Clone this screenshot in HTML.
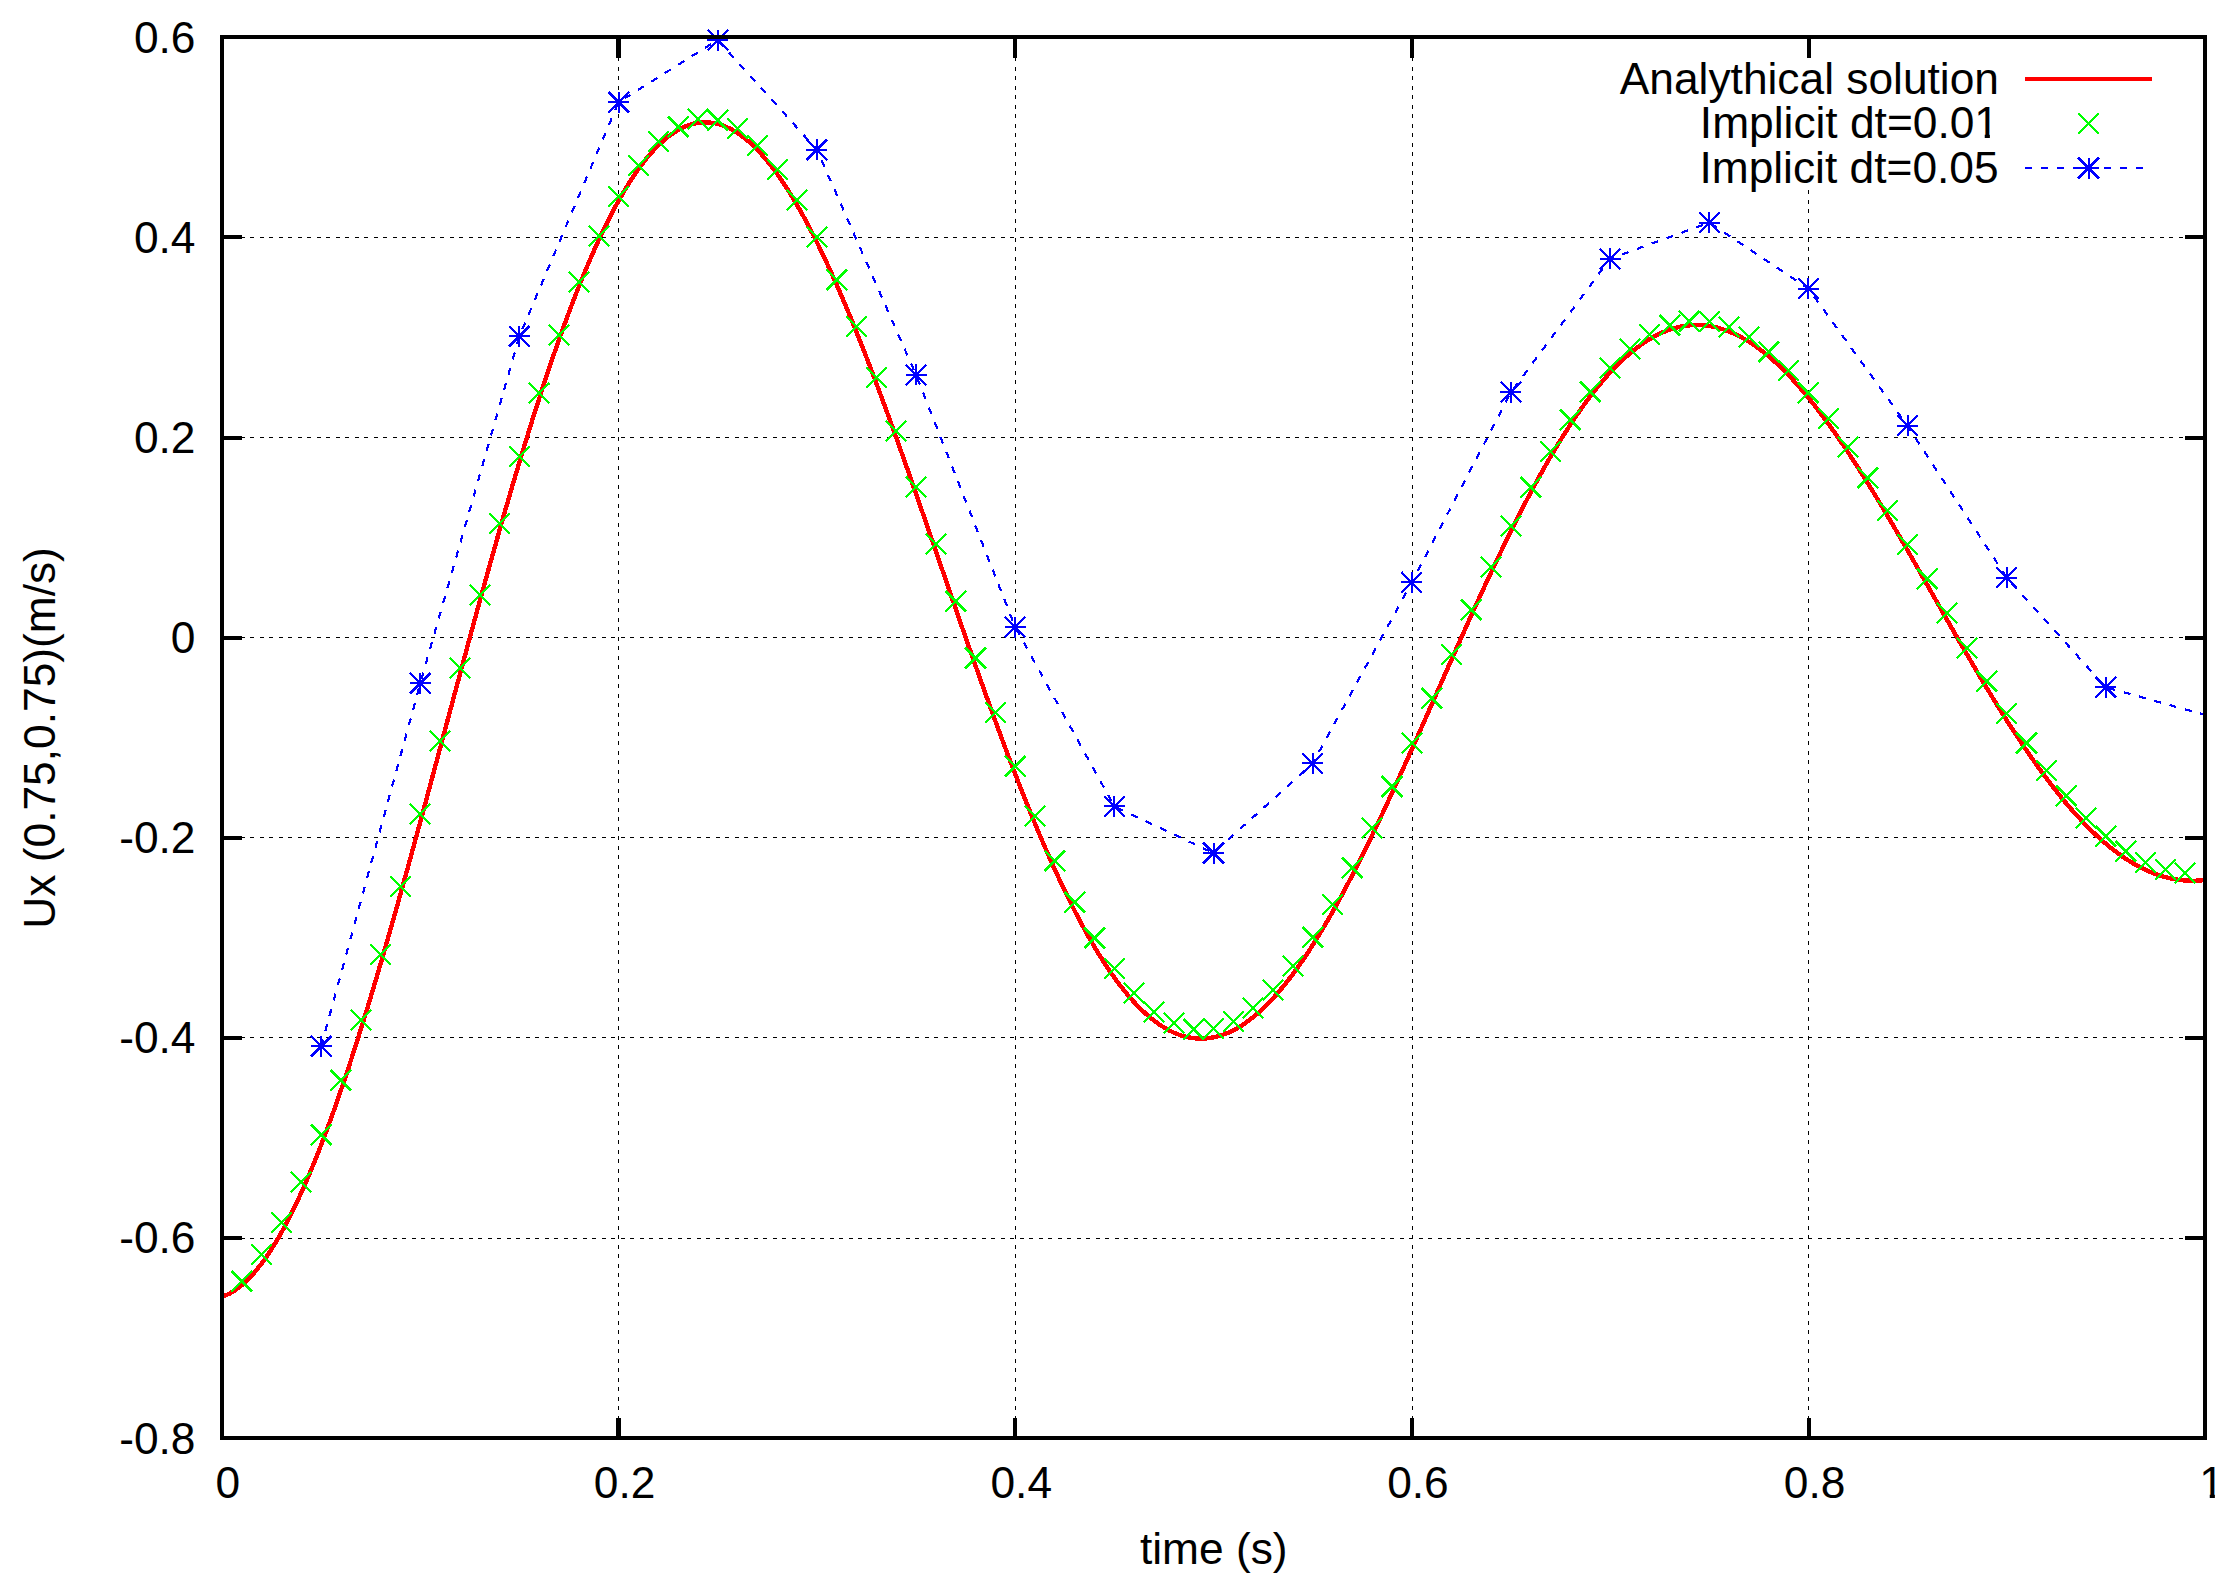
<!DOCTYPE html>
<html lang="en"><head><meta charset="utf-8"><title>Ux (0.75,0.75) vs time</title>
<style>
html,body{margin:0;padding:0;background:#fff;}
body{width:2238px;height:1587px;overflow:hidden;}
svg{display:block;}
text{font-family:"Liberation Sans",sans-serif;font-size:44.3px;fill:#000;}
.grid{stroke:#000;stroke-width:1;stroke-dasharray:4 5.5;fill:none;shape-rendering:crispEdges;}
.bord{stroke:#000;stroke-width:4;fill:none;shape-rendering:crispEdges;}
.r{shape-rendering:crispEdges;stroke:#f00;stroke-width:4.4;fill:none;stroke-linejoin:round;stroke-linecap:butt;}
.g{shape-rendering:crispEdges;stroke:#0f0;stroke-width:2.3;fill:none;}
.b{shape-rendering:crispEdges;stroke:#00f;stroke-width:2.3;fill:none;}
.bd{shape-rendering:crispEdges;stroke:#00f;stroke-width:2.2;fill:none;stroke-dasharray:7.1 8.75;}
</style></head><body>
<svg width="2238" height="1587" viewBox="0 0 2238 1587">
<rect x="0" y="0" width="2238" height="1587" fill="#fff"/>
<defs>
<path id="mx" d="M-10.3-10.3L10.3 10.3M-10.3 10.3L10.3-10.3"/>
<g id="ms"><path style="stroke-width:2" d="M-10.5 0H10.5M0-10.5V10.5"/><path d="M-10.3-10.3L10.3 10.3M-10.3 10.3L10.3-10.3"/></g>
</defs>
<g class="grid">
<path d="M221.5 237.5H2205"/>
<path d="M221.5 437.5H2205"/>
<path d="M221.5 637.5H2205"/>
<path d="M221.5 837.5H2205"/>
<path d="M221.5 1037.5H2205"/>
<path d="M221.5 1238.5H2205"/>
<path d="M618.5 1438.5V37"/>
<path d="M1015.5 1438.5V37"/>
<path d="M1412.5 1438.5V37"/>
<path d="M1808.5 1438.5V189.5"/>
</g>
<path class="r" d="M222 1296.81 225.97 1295.29 229.93 1293.35 233.9 1291.01 237.86 1288.26 241.83 1285.1 245.8 1281.55 249.76 1277.61 253.73 1273.27 257.69 1268.55 261.66 1263.45 265.63 1257.97 269.59 1252.12 273.56 1245.9 277.52 1239.33 281.49 1232.39 285.46 1225.11 289.42 1217.48 293.39 1209.51 297.35 1201.22 301.32 1192.6 305.29 1183.66 309.25 1174.41 313.22 1164.86 317.18 1155.01 321.15 1144.87 325.12 1134.45 329.08 1123.76 333.05 1112.8 337.01 1101.58 340.98 1090.11 344.95 1078.41 348.91 1066.46 352.88 1054.3 356.84 1041.92 360.81 1029.33 364.78 1016.54 368.74 1003.57 372.71 990.41 376.67 977.08 380.64 963.59 384.61 949.95 388.57 936.16 392.54 922.24 396.5 908.19 400.47 894.03 404.44 879.76 408.4 865.4 412.37 850.94 416.33 836.41 420.3 821.81 424.27 807.16 428.23 792.45 432.2 777.7 436.16 762.93 440.13 748.13 444.1 733.32 448.06 718.51 452.03 703.71 455.99 688.93 459.96 674.17 463.93 659.45 467.89 644.77 471.86 630.15 475.82 615.58 479.79 601.1 483.76 586.69 487.72 572.37 491.69 558.15 495.65 544.04 499.62 530.04 503.59 516.17 507.55 502.42 511.52 488.82 515.48 475.37 519.45 462.08 523.42 448.95 527.38 435.99 531.35 423.21 535.31 410.62 539.28 398.22 543.25 386.02 547.21 374.03 551.18 362.26 555.14 350.7 559.11 339.38 563.08 328.29 567.04 317.44 571.01 306.84 574.97 296.49 578.94 286.39 582.91 276.56 586.87 267 590.84 257.71 594.8 248.7 598.77 239.97 602.74 231.53 606.7 223.38 610.67 215.52 614.63 207.96 618.6 200.71 622.57 193.76 626.53 187.12 630.5 180.8 634.46 174.79 638.43 169.09 642.4 163.72 646.36 158.66 650.33 153.94 654.29 149.53 658.26 145.46 662.23 141.71 666.19 138.29 670.16 135.21 674.12 132.45 678.09 130.02 682.06 127.93 686.02 126.17 689.99 124.74 693.95 123.64 697.92 122.87 701.89 122.43 705.85 122.32 709.82 122.53 713.78 123.07 717.75 123.94 721.72 125.13 725.68 126.63 729.65 128.46 733.61 130.6 737.58 133.06 741.55 135.82 745.51 138.89 749.48 142.27 753.44 145.95 757.41 149.92 761.38 154.19 765.34 158.74 769.31 163.59 773.27 168.71 777.24 174.11 781.21 179.78 785.17 185.72 789.14 191.93 793.1 198.39 797.07 205.1 801.04 212.06 805 219.27 808.97 226.7 812.93 234.38 816.9 242.27 820.87 250.39 824.83 258.71 828.8 267.25 832.76 275.99 836.73 284.92 840.7 294.03 844.66 303.33 848.63 312.81 852.59 322.45 856.56 332.25 860.53 342.21 864.49 352.32 868.46 362.57 872.42 372.95 876.39 383.45 880.36 394.08 884.32 404.81 888.29 415.66 892.25 426.6 896.22 437.63 900.19 448.74 904.15 459.93 908.12 471.18 912.08 482.5 916.05 493.87 920.02 505.28 923.98 516.74 927.95 528.22 931.91 539.73 935.88 551.25 939.85 562.78 943.81 574.32 947.78 585.84 951.74 597.36 955.71 608.85 959.68 620.32 963.64 631.75 967.61 643.14 971.57 654.48 975.54 665.76 979.51 676.98 983.47 688.14 987.44 699.21 991.4 710.2 995.37 721.1 999.34 731.91 1003.3 742.61 1007.27 753.2 1011.23 763.68 1015.2 774.03 1019.17 784.26 1023.13 794.35 1027.1 804.3 1031.06 814.11 1035.03 823.77 1039 833.26 1042.96 842.6 1046.93 851.77 1050.89 860.77 1054.86 869.59 1058.83 878.22 1062.79 886.67 1066.76 894.93 1070.72 902.99 1074.69 910.85 1078.66 918.51 1082.62 925.96 1086.59 933.19 1090.55 940.21 1094.52 947.01 1098.49 953.58 1102.45 959.93 1106.42 966.05 1110.38 971.93 1114.35 977.58 1118.32 982.99 1122.28 988.16 1126.25 993.09 1130.21 997.77 1134.18 1002.21 1138.15 1006.39 1142.11 1010.33 1146.08 1014.01 1150.04 1017.44 1154.01 1020.61 1157.98 1023.53 1161.94 1026.19 1165.91 1028.6 1169.87 1030.75 1173.84 1032.63 1177.81 1034.27 1181.77 1035.64 1185.74 1036.75 1189.7 1037.61 1193.67 1038.21 1197.64 1038.55 1201.6 1038.64 1205.57 1038.47 1209.53 1038.05 1213.5 1037.37 1217.47 1036.45 1221.43 1035.27 1225.4 1033.85 1229.36 1032.18 1233.33 1030.27 1237.3 1028.12 1241.26 1025.73 1245.23 1023.1 1249.19 1020.23 1253.16 1017.14 1257.13 1013.82 1261.09 1010.27 1265.06 1006.5 1269.02 1002.51 1272.99 998.3 1276.96 993.88 1280.92 989.26 1284.89 984.42 1288.85 979.39 1292.82 974.16 1296.79 968.74 1300.75 963.13 1304.72 957.34 1308.68 951.36 1312.65 945.22 1316.62 938.9 1320.58 932.41 1324.55 925.76 1328.51 918.96 1332.48 912 1336.45 904.9 1340.41 897.66 1344.38 890.28 1348.34 882.77 1352.31 875.14 1356.28 867.38 1360.24 859.51 1364.21 851.53 1368.17 843.45 1372.14 835.26 1376.11 826.99 1380.07 818.63 1384.04 810.18 1388 801.66 1391.97 793.07 1395.94 784.42 1399.9 775.71 1403.87 766.94 1407.83 758.13 1411.8 749.27 1415.77 740.38 1419.73 731.46 1423.7 722.52 1427.66 713.56 1431.63 704.58 1435.6 695.6 1439.56 686.62 1443.53 677.64 1447.49 668.67 1451.46 659.72 1455.43 650.79 1459.39 641.89 1463.36 633.02 1467.32 624.19 1471.29 615.4 1475.26 606.66 1479.22 597.98 1483.19 589.35 1487.15 580.79 1491.12 572.3 1495.09 563.89 1499.05 555.55 1503.02 547.3 1506.98 539.15 1510.95 531.08 1514.92 523.12 1518.88 515.26 1522.85 507.51 1526.81 499.87 1530.78 492.35 1534.75 484.95 1538.71 477.68 1542.68 470.54 1546.64 463.53 1550.61 456.66 1554.58 449.93 1558.54 443.35 1562.51 436.92 1566.47 430.64 1570.44 424.52 1574.41 418.56 1578.37 412.76 1582.34 407.13 1586.3 401.66 1590.27 396.37 1594.24 391.24 1598.2 386.3 1602.17 381.54 1606.13 376.95 1610.1 372.55 1614.07 368.34 1618.03 364.31 1622 360.48 1625.96 356.83 1629.93 353.38 1633.9 350.12 1637.86 347.05 1641.83 344.18 1645.79 341.51 1649.76 339.04 1653.73 336.77 1657.69 334.7 1661.66 332.82 1665.62 331.15 1669.59 329.68 1673.56 328.41 1677.52 327.34 1681.49 326.47 1685.45 325.81 1689.42 325.34 1693.39 325.07 1697.35 325.01 1701.32 325.14 1705.28 325.46 1709.25 325.99 1713.22 326.71 1717.18 327.62 1721.15 328.73 1725.11 330.03 1729.08 331.52 1733.05 333.2 1737.01 335.06 1740.98 337.11 1744.94 339.34 1748.91 341.75 1752.88 344.34 1756.84 347.1 1760.81 350.04 1764.77 353.14 1768.74 356.42 1772.71 359.86 1776.67 363.46 1780.64 367.23 1784.6 371.14 1788.57 375.22 1792.54 379.44 1796.5 383.81 1800.47 388.32 1804.43 392.97 1808.4 397.76 1812.37 402.68 1816.33 407.74 1820.3 412.91 1824.26 418.21 1828.23 423.63 1832.2 429.16 1836.16 434.8 1840.13 440.54 1844.09 446.39 1848.06 452.34 1852.03 458.38 1855.99 464.51 1859.96 470.72 1863.92 477.02 1867.89 483.39 1871.86 489.84 1875.82 496.35 1879.79 502.93 1883.75 509.56 1887.72 516.25 1891.69 522.99 1895.65 529.78 1899.62 536.6 1903.58 543.47 1907.55 550.36 1911.52 557.29 1915.48 564.23 1919.45 571.2 1923.41 578.18 1927.38 585.17 1931.35 592.16 1935.31 599.16 1939.28 606.15 1943.24 613.13 1947.21 620.1 1951.18 627.06 1955.14 633.99 1959.11 640.9 1963.07 647.78 1967.04 654.62 1971.01 661.43 1974.97 668.19 1978.94 674.91 1982.9 681.58 1986.87 688.19 1990.84 694.74 1994.8 701.23 1998.77 707.66 2002.73 714.01 2006.7 720.29 2010.67 726.49 2014.63 732.61 2018.6 738.65 2022.56 744.6 2026.53 750.46 2030.5 756.22 2034.46 761.88 2038.43 767.44 2042.39 772.9 2046.36 778.25 2050.33 783.49 2054.29 788.61 2058.26 793.62 2062.22 798.51 2066.19 803.28 2070.16 807.92 2074.12 812.44 2078.09 816.83 2082.05 821.08 2086.02 825.21 2089.99 829.19 2093.95 833.04 2097.92 836.76 2101.88 840.32 2105.85 843.75 2109.82 847.03 2113.78 850.17 2117.75 853.16 2121.71 856 2125.68 858.69 2129.65 861.23 2133.61 863.61 2137.58 865.85 2141.54 867.93 2145.51 869.85 2149.48 871.62 2153.44 873.24 2157.41 874.69 2161.37 876 2165.34 877.14 2169.31 878.13 2173.27 878.96 2177.24 879.64 2181.2 880.16 2185.17 880.52 2189.14 880.73 2193.1 880.78 2197.07 880.68 2201.03 880.42 2205 880.02"/>
<g class="g">
<use href="#mx" x="241.83" y="1281.3"/>
<use href="#mx" x="261.66" y="1254.69"/>
<use href="#mx" x="281.49" y="1222.27"/>
<use href="#mx" x="301.32" y="1182.05"/>
<use href="#mx" x="321.15" y="1134.62"/>
<use href="#mx" x="340.98" y="1080.39"/>
<use href="#mx" x="360.81" y="1019.86"/>
<use href="#mx" x="380.64" y="954.42"/>
<use href="#mx" x="400.47" y="886.29"/>
<use href="#mx" x="420.3" y="814.05"/>
<use href="#mx" x="440.13" y="741.21"/>
<use href="#mx" x="459.96" y="667.77"/>
<use href="#mx" x="479.79" y="595.03"/>
<use href="#mx" x="499.62" y="523.69"/>
<use href="#mx" x="519.45" y="456.65"/>
<use href="#mx" x="539.28" y="393.12"/>
<use href="#mx" x="559.11" y="334.88"/>
<use href="#mx" x="578.94" y="281.95"/>
<use href="#mx" x="598.77" y="235.93"/>
<use href="#mx" x="618.6" y="196.61"/>
<use href="#mx" x="638.43" y="165.29"/>
<use href="#mx" x="658.26" y="141.48"/>
<use href="#mx" x="678.09" y="126.67"/>
<use href="#mx" x="697.92" y="119.07"/>
<use href="#mx" x="717.75" y="120.17"/>
<use href="#mx" x="737.58" y="128.77"/>
<use href="#mx" x="757.41" y="145.58"/>
<use href="#mx" x="777.24" y="169.59"/>
<use href="#mx" x="797.07" y="200.21"/>
<use href="#mx" x="816.9" y="237.03"/>
<use href="#mx" x="836.73" y="279.85"/>
<use href="#mx" x="856.56" y="326.48"/>
<use href="#mx" x="876.39" y="377.61"/>
<use href="#mx" x="896.22" y="431.04"/>
<use href="#mx" x="916.05" y="486.67"/>
<use href="#mx" x="935.88" y="543.9"/>
<use href="#mx" x="955.71" y="601.13"/>
<use href="#mx" x="975.54" y="657.96"/>
<use href="#mx" x="995.37" y="712.59"/>
<use href="#mx" x="1015.2" y="766.22"/>
<use href="#mx" x="1035.03" y="815.85"/>
<use href="#mx" x="1054.86" y="860.77"/>
<use href="#mx" x="1074.69" y="902.2"/>
<use href="#mx" x="1094.52" y="937.92"/>
<use href="#mx" x="1114.35" y="968.43"/>
<use href="#mx" x="1134.18" y="993.15"/>
<use href="#mx" x="1154.01" y="1011.76"/>
<use href="#mx" x="1173.84" y="1023.16"/>
<use href="#mx" x="1193.67" y="1029.27"/>
<use href="#mx" x="1213.5" y="1028.46"/>
<use href="#mx" x="1233.33" y="1021.46"/>
<use href="#mx" x="1253.16" y="1007.85"/>
<use href="#mx" x="1272.99" y="989.84"/>
<use href="#mx" x="1292.82" y="965.93"/>
<use href="#mx" x="1312.65" y="937.11"/>
<use href="#mx" x="1332.48" y="904.7"/>
<use href="#mx" x="1352.31" y="867.78"/>
<use href="#mx" x="1372.14" y="828.15"/>
<use href="#mx" x="1391.97" y="786.53"/>
<use href="#mx" x="1411.8" y="743.01"/>
<use href="#mx" x="1431.63" y="698.08"/>
<use href="#mx" x="1451.46" y="654.26"/>
<use href="#mx" x="1471.29" y="609.83"/>
<use href="#mx" x="1491.12" y="566.81"/>
<use href="#mx" x="1510.95" y="525.81"/>
<use href="#mx" x="1530.78" y="487.28"/>
<use href="#mx" x="1550.61" y="451.79"/>
<use href="#mx" x="1570.44" y="419.93"/>
<use href="#mx" x="1590.27" y="391.81"/>
<use href="#mx" x="1610.1" y="368.2"/>
<use href="#mx" x="1629.93" y="348.89"/>
<use href="#mx" x="1649.76" y="334.48"/>
<use href="#mx" x="1669.59" y="325.08"/>
<use href="#mx" x="1689.42" y="321.08"/>
<use href="#mx" x="1709.25" y="321.48"/>
<use href="#mx" x="1729.08" y="326.78"/>
<use href="#mx" x="1748.91" y="337.08"/>
<use href="#mx" x="1768.74" y="351.89"/>
<use href="#mx" x="1788.57" y="370.5"/>
<use href="#mx" x="1808.4" y="392.82"/>
<use href="#mx" x="1828.23" y="418.53"/>
<use href="#mx" x="1848.06" y="447.25"/>
<use href="#mx" x="1867.89" y="477.56"/>
<use href="#mx" x="1887.72" y="510.58"/>
<use href="#mx" x="1907.55" y="544.4"/>
<use href="#mx" x="1927.38" y="578.82"/>
<use href="#mx" x="1947.21" y="613.14"/>
<use href="#mx" x="1967.04" y="647.86"/>
<use href="#mx" x="1986.87" y="681.37"/>
<use href="#mx" x="2006.7" y="713.49"/>
<use href="#mx" x="2026.53" y="743.01"/>
<use href="#mx" x="2046.36" y="770.72"/>
<use href="#mx" x="2066.19" y="795.74"/>
<use href="#mx" x="2086.02" y="817.85"/>
<use href="#mx" x="2105.85" y="836.36"/>
<use href="#mx" x="2125.68" y="851.14"/>
<use href="#mx" x="2145.51" y="862.18"/>
<use href="#mx" x="2165.34" y="869.38"/>
<use href="#mx" x="2185.17" y="872.98"/>
</g>
<path class="bd" d="M321.15 1046.37 420.3 683.18 519.45 336.18 618.6 102.06 717.75 40.02 816.9 149.68 916.05 374.91 1015.2 627.04 1114.35 806.44 1213.5 853.07 1312.65 763.42 1411.8 582.42 1510.95 392.32 1610.1 258.74 1709.25 222.62 1808.4 288.56 1907.55 425.83 2006.7 577.62 2105.85 687.28 2205 714.89"/>
<g class="b">
<use href="#ms" x="321.15" y="1046.37"/>
<use href="#ms" x="420.3" y="683.18"/>
<use href="#ms" x="519.45" y="336.18"/>
<use href="#ms" x="618.6" y="102.06"/>
<use href="#ms" x="717.75" y="40.02"/>
<use href="#ms" x="816.9" y="149.68"/>
<use href="#ms" x="916.05" y="374.91"/>
<use href="#ms" x="1015.2" y="627.04"/>
<use href="#ms" x="1114.35" y="806.44"/>
<use href="#ms" x="1213.5" y="853.07"/>
<use href="#ms" x="1312.65" y="763.42"/>
<use href="#ms" x="1411.8" y="582.42"/>
<use href="#ms" x="1510.95" y="392.32"/>
<use href="#ms" x="1610.1" y="258.74"/>
<use href="#ms" x="1709.25" y="222.62"/>
<use href="#ms" x="1808.4" y="288.56"/>
<use href="#ms" x="1907.55" y="425.83"/>
<use href="#ms" x="2006.7" y="577.62"/>
<use href="#ms" x="2105.85" y="687.28"/>
</g>
<path class="r" style="stroke-width:4" d="M2025 79H2152"/>
<use class="g" href="#mx" x="2088.5" y="123.4"/>
<path class="bd" d="M2025 168H2152"/>
<use class="b" href="#ms" x="2088.5" y="168"/>
<g class="bord">
<rect x="222" y="37" width="1983" height="1401"/>
<path d="M222 237h20 M2205 237h-20"/>
<path d="M222 438h20 M2205 438h-20"/>
<path d="M222 638h20 M2205 638h-20"/>
<path d="M222 838h20 M2205 838h-20"/>
<path d="M222 1038h20 M2205 1038h-20"/>
<path d="M222 1238h20 M2205 1238h-20"/>
<path style="stroke-width:5" d="M618.5 1438v-20 M618.5 37v21"/>
<path d="M1015 1438v-20 M1015 37v21"/>
<path d="M1412 1438v-20 M1412 37v21"/>
<path d="M1809 1438v-20 M1809 37v21"/>
</g>
<clipPath id="c1"><path d="M-4 -45H30V-4.21 H15.66 V3 H10.54 V-4.21 H-4Z"/></clipPath>
<g text-anchor="end">
<text x="195.5" y="52.68">0.6</text>
<text x="195.5" y="252.8">0.4</text>
<text x="195.5" y="452.93">0.2</text>
<text x="195.5" y="653.05">0</text>
<text x="195.5" y="853.18">-0.2</text>
<text x="195.5" y="1053.3">-0.4</text>
<text x="195.5" y="1253.42">-0.6</text>
<text x="195.5" y="1453.55">-0.8</text>
<text x="1999" y="93.8">Analythical solution</text>
<text x="1974.4" y="137.9">Implicit dt=0.0</text>
<text x="1998.6" y="182.7">Implicit dt=0.05</text>
</g>
<g transform="translate(1974.2 137.9)"><text x="0" y="0" clip-path="url(#c1)">1</text></g>
<g text-anchor="middle">
<text x="227.85" y="1497.7">0</text>
<text x="624.55" y="1497.7">0.2</text>
<text x="1021.25" y="1497.7">0.4</text>
<text x="1417.95" y="1497.7">0.6</text>
<text x="1814.65" y="1497.7">0.8</text>
<text x="1213.8" y="1563.9">time (s)</text>
<text transform="translate(55.4 737.9) rotate(-90)">Ux (0.75,0.75)(m/s)</text>
</g>
<g transform="translate(2199.2 1497.7)"><text x="0" y="0" clip-path="url(#c1)">1</text></g>
</svg>
</body></html>
